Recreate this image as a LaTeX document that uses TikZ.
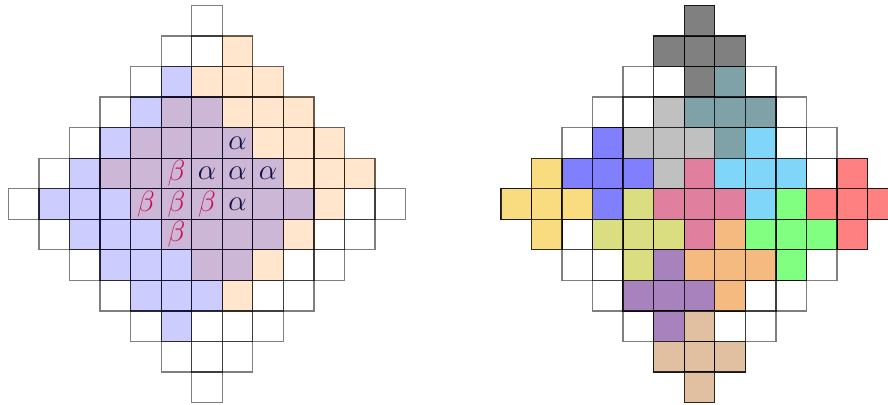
\documentclass[tikz,border=0pt]{standalone}
\definecolor{cDk}{RGB}{128,128,128}
\definecolor{cTeal}{RGB}{127,161,168}
\definecolor{cLt}{RGB}{192,192,192}
\definecolor{cBlue}{RGB}{128,128,255}
\definecolor{cCyan}{RGB}{128,214,248}
\definecolor{cYel}{RGB}{250,220,128}
\definecolor{cPink}{RGB}{224,128,158}
\definecolor{cRed}{RGB}{255,128,128}
\definecolor{cGreen}{RGB}{128,255,128}
\definecolor{cOlive}{RGB}{218,222,128}
\definecolor{cOrange}{RGB}{245,186,128}
\definecolor{cPurple}{RGB}{168,130,188}
\definecolor{cTan}{RGB}{224,192,160}
\definecolor{cAlpha}{RGB}{20,15,70}
\definecolor{cBeta}{RGB}{200,15,85}
\tikzset{
  gridl/.style={draw=black, draw opacity=0.5, line width=1.1pt},
  bluefill/.style={fill=blue, fill opacity=0.2, draw=blue!70!black, draw opacity=0.35, line width=1.1pt},
  orangefill/.style={fill=orange, fill opacity=0.2, draw=orange!50!black, draw opacity=0.35, line width=1.1pt},
  cellc/.style={draw=black, draw opacity=0.8, line width=1.1pt},
  lab/.style={font=\fontsize{23}{27}\selectfont, inner sep=0pt}
}
\begin{document}
\begin{tikzpicture}[x=0.03cm,y=0.03cm]
\useasboundingbox (0,0) rectangle (888,405);
\clip (0,0) rectangle (888,405);
% ---------- left diamond ----------
\begin{scope}[shift={(207,201)}, x=0.9165cm, y=0.9165cm]
  \foreach \c in {-6,...,6} {
    \foreach \r in {-6,...,6} {
      \pgfmathtruncatemacro\dorg{abs(\c-1)+abs(\r-1)}
      \ifnum\dorg<5
        \path[orangefill] ({\c-0.5},{\r-0.5}) rectangle +(1,1);
      \fi
    }
  }
  \foreach \c in {-6,...,6} {
    \foreach \r in {-6,...,6} {
      \pgfmathtruncatemacro\dblu{abs(\c+1)+abs(\r)}
      \ifnum\dblu<5
        \path[bluefill] ({\c-0.5},{\r-0.5}) rectangle +(1,1);
      \fi
    }
  }
  \foreach \c in {-6,...,6} {
    \foreach \r in {-6,...,6} {
      \pgfmathtruncatemacro\dd{abs(\c)+abs(\r)}
      \ifnum\dd<7
        \path[gridl] ({\c-0.5},{\r-0.5}) rectangle +(1,1);
      \fi
    }
  }
  \node[lab, text=cAlpha] (a1) at (1,2) {$\alpha$};
  \node[lab, text=cAlpha] (a2) at (0,1) {$\alpha$};
  \node[lab, text=cAlpha] (a3) at (1,1) {$\alpha$};
  \node[lab, text=cAlpha] (a4) at (2,1) {$\alpha$};
  \node[lab, text=cAlpha] (a5) at (1,0) {$\alpha$};
  \node[lab, text=cBeta] (b1) at (-1,1) {$\beta$};
  \node[lab, text=cBeta] (b2) at (-2,0) {$\beta$};
  \node[lab, text=cBeta] (b3) at (-1,0) {$\beta$};
  \node[lab, text=cBeta] (b4) at (0,0) {$\beta$};
  \node[lab, text=cBeta] (b5) at (-1,-1) {$\beta$};
\end{scope}
% ---------- right diamond ----------
\begin{scope}[shift={(699.5,201)}, x=0.9165cm, y=0.9165cm]
  \foreach \c in {-6,...,6} {
    \foreach \r in {-6,...,6} {
      \pgfmathtruncatemacro\dd{abs(\c)+abs(\r)}
      \ifnum\dd<7
        \path[gridl] ({\c-0.5},{\r-0.5}) rectangle +(1,1);
      \fi
    }
  }
  \foreach \px/\py/\col in {0/5/cDk, 1/3/cTeal, -1/2/cLt, -3/1/cBlue, 2/1/cCyan,
      -5/0/cYel, 0/0/cPink, 5/0/cRed, 3/-1/cGreen, -2/-1/cOlive,
      1/-2/cOrange, -1/-3/cPurple, 0/-5/cTan} {
    \foreach \dx/\dy in {0/0,1/0,-1/0,0/1,0/-1} {
      \path[cellc, fill=\col] ({\px+\dx-0.5},{\py+\dy-0.5}) rectangle +(1,1);
    }
  }
\end{scope}
\end{tikzpicture}
\end{document}
